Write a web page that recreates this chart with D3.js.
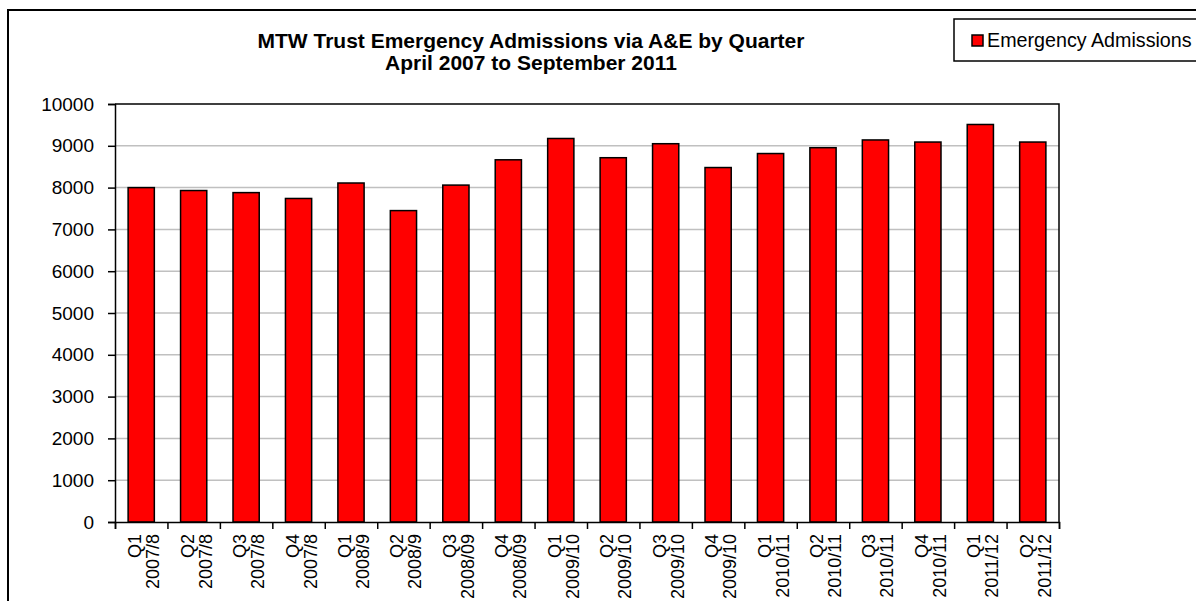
<!DOCTYPE html>
<html>
<head>
<meta charset="utf-8">
<script src="https://cdn.jsdelivr.net/npm/d3@7"></script>
<style>
	body { margin: 0; background: #fff; }
	svg text { font-family: "Liberation Sans", Arial, sans-serif; fill: #000; }
	.gridLine { stroke: #c0c0c0; stroke-width: 1.5; }
	.bar { fill: #ff0000; stroke: #000; stroke-width: 1.5; }
</style>
</head>
<body>
<div id="chart"></div>
<script>
var quarters = ["Q1","Q2","Q3","Q4","Q1","Q2","Q3","Q4","Q1","Q2","Q3","Q4","Q1","Q2","Q3","Q4","Q1","Q2"]
var years = ["2007/8","2007/8","2007/8","2007/8","2008/9","2008/9","2008/09","2008/09","2009/10","2009/10","2009/10","2009/10","2010/11","2010/11","2010/11","2010/11","2011/12","2011/12"]
var admissions = [8000, 7930, 7880, 7740, 8110, 7450, 8060, 8665, 9175, 8715, 9050, 8480, 8815, 8955, 9140, 9090, 9510, 9090]
var yTicks = [0,1000,2000,3000,4000,5000,6000,7000,8000,9000,10000]

var titleLines = ["MTW Trust Emergency Admissions via A&E by Quarter", "April 2007 to September 2011"]
var legendLabel = "Emergency Admissions"

var WIDTH = 1196, HEIGHT = 601
var PLOT_LEFT = 115, PLOT_RIGHT = 1059, PLOT_TOP = 104, PLOT_BOTTOM = 522

var svg = d3.select("#chart").append("svg")
	.attr("width", WIDTH)
	.attr("height", HEIGHT)

// chart border, runs off the right and bottom edges
svg.append("rect")
	.attr("x", 8).attr("y", 10)
	.attr("width", WIDTH).attr("height", HEIGHT)
	.attr("fill", "none")
	.attr("stroke", "#000")
	.attr("stroke-width", 2)

var title = svg.append("text")
	.attr("text-anchor", "middle")
	.style("font-weight", "bold")
	.style("font-size", "21px")
title.selectAll("tspan")
	.data(titleLines)
	.enter()
	.append("tspan")
	.attr("x", 531)
	.attr("y", function(d,i){ return 48 + i*22 })
	.text(function(d){ return d })

var idx = admissions.map(function(d,i){ return i })

var x = d3.scaleBand()
	.domain(idx)
	.range([PLOT_LEFT, PLOT_RIGHT])
	.paddingInner(0.5)
	.paddingOuter(0.25)

var xBoundary = d3.scaleLinear()
	.domain([0, admissions.length])
	.range([PLOT_LEFT, PLOT_RIGHT])

var y = d3.scaleLinear()
	.domain([0, 10000])
	.range([PLOT_BOTTOM, PLOT_TOP])

svg.selectAll(".gridLine")
	.data(yTicks.slice(1, -1))
	.enter()
	.append("line")
	.attr("class", "gridLine")
	.attr("x1", PLOT_LEFT).attr("x2", PLOT_RIGHT)
	.attr("y1", function(d){ return y(d) })
	.attr("y2", function(d){ return y(d) })

// plot frame top and right
svg.append("path")
	.attr("d", "M" + PLOT_LEFT + "," + PLOT_TOP + "H" + PLOT_RIGHT + "V" + PLOT_BOTTOM)
	.attr("fill", "none")
	.attr("stroke", "#000")
	.attr("stroke-width", 1.5)

svg.selectAll(".bar")
	.data(admissions)
	.enter()
	.append("rect")
	.attr("class", "bar")
	.attr("x", function(d,i){ return x(i) })
	.attr("width", x.bandwidth())
	.attr("y", function(d){ return y(d) })
	.attr("height", function(d){ return y(0) - y(d) })

var yAxis = svg.append("g")
	.attr("transform", "translate(" + PLOT_LEFT + ",0)")
	.call(d3.axisLeft(y).tickValues(yTicks).tickSize(7).tickPadding(14).tickFormat(d3.format("d")))
yAxis.select(".domain").attr("stroke-width", 1.5)
yAxis.selectAll(".tick line").attr("stroke-width", 1.5)
yAxis.selectAll("text").style("font-size", "19px").attr("fill", "#000")

var xAxis = svg.append("g")
	.attr("transform", "translate(0," + PLOT_BOTTOM + ")")
	.call(d3.axisBottom(xBoundary).tickValues(d3.range(admissions.length + 1)).tickSize(7).tickFormat(""))
xAxis.select(".domain").attr("stroke-width", 1.5)
xAxis.selectAll(".tick line").attr("stroke-width", 1.5)

var labels = svg.selectAll(".xLabel")
	.data(admissions)
	.enter()
	.append("text")
	.attr("class", "xLabel")
	.attr("text-anchor", "end")
	.style("font-size", "18px")
	.attr("transform", function(d,i){
		var cx = x(i) + x.bandwidth()/2
		return "translate(" + cx + "," + (PLOT_BOTTOM + 12) + ") rotate(-90)"
	})

labels.append("tspan")
	.attr("x", 0).attr("y", 0)
	.text(function(d,i){ return quarters[i] })
labels.append("tspan")
	.attr("x", 0).attr("y", 18)
	.text(function(d,i){ return years[i] })

// legend
var legend = svg.append("g")
legend.append("rect")
	.attr("x", 954).attr("y", 19)
	.attr("width", 300).attr("height", 42)
	.attr("fill", "#fff")
	.attr("stroke", "#000")
	.attr("stroke-width", 1.5)
legend.append("rect")
	.attr("x", 972).attr("y", 35)
	.attr("width", 11).attr("height", 11)
	.attr("fill", "#ff0000")
	.attr("stroke", "#000")
	.attr("stroke-width", 1.5)
legend.append("text")
	.attr("x", 987).attr("y", 47)
	.style("font-size", "19.7px")
	.text(legendLabel)
</script>
</body>
</html>
